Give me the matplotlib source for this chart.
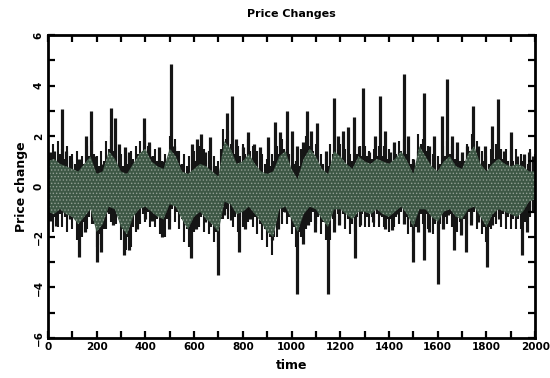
import numpy as np
import matplotlib.pyplot as plt
from matplotlib.ticker import MultipleLocator

# dense core of the series, read every 25 steps (upper / lower limit)
band_t = np.arange(0, 2001, 25)
band_hi = [1.0, 1.1, 0.9, 0.8, 0.7, 0.6, 0.9, 1.2, 0.5, 0.6,
           1.4, 1.1, 0.6, 0.5, 0.9, 1.3, 1.5, 1.0, 0.8, 0.7,
           1.5, 1.2, 0.6, 0.5, 0.7, 0.9, 0.8, 0.6, 0.4, 1.8,
           1.5, 0.9, 1.0, 1.3, 0.9, 0.6, 0.5, 0.6, 1.2, 1.4,
           0.7, 0.3, 1.1, 1.5, 1.2, 0.7, 0.5, 1.4, 1.2, 0.9,
           0.7, 1.2, 1.0, 0.9, 1.1, 1.0, 0.9, 1.1, 1.4, 1.0,
           0.5, 1.6, 1.2, 0.8, 0.6, 1.0, 1.2, 0.8, 0.7, 1.3,
           1.6, 0.9, 0.6, 0.9, 1.1, 0.9, 0.8, 0.9, 0.8, 0.6, 0.6]
band_lo = [-1.0, -1.1, -0.9, -1.1, -1.2, -1.5, -1.2, -0.9, -1.8, -1.5,
           -0.8, -0.9, -1.6, -1.9, -1.2, -0.9, -0.8, -1.0, -1.2, -1.3,
           -0.7, -0.8, -1.3, -1.7, -1.2, -1.0, -1.3, -1.5, -1.8, -0.6,
           -0.7, -1.1, -1.0, -0.8, -1.1, -1.4, -1.8, -2.0, -0.9, -0.8,
           -1.3, -1.8, -1.1, -0.8, -0.9, -1.3, -1.6, -0.9, -0.9, -1.1,
           -1.3, -1.0, -1.0, -1.1, -0.9, -1.1, -1.2, -1.0, -0.8, -1.1,
           -1.6, -0.9, -0.9, -1.2, -1.4, -1.0, -0.9, -1.2, -1.3, -0.9,
           -0.8, -1.2, -1.6, -1.1, -0.9, -1.0, -1.1, -1.2, -1.0, -0.6, -0.5]

# black fringe around the core, read every 10 steps
edge_t = np.arange(0, 2001, 10)
edge_hi = [1.6, 1.2, 1.7, 1.1, 1.8, 1.3, 1.5, 1.1, 1.6, 1.2,
           1.3, 0.9, 1.4, 1.0, 1.2, 0.9, 1.6, 1.2, 1.8, 1.3,
           1.2, 0.8, 1.4, 1.0, 1.8, 1.5, 2.0, 1.4, 1.7, 1.2,
           1.3, 0.8, 1.2, 0.9, 1.4, 1.1, 1.6, 1.3, 1.8, 1.4,
           2.1, 1.6, 1.7, 1.2, 1.5, 1.0, 1.4, 1.0, 1.3, 1.0,
           2.0, 1.6, 1.9, 1.4, 1.4, 0.9, 1.3, 0.8, 1.2, 0.9,
           1.4, 1.0, 1.6, 1.1, 1.5, 1.0, 1.4, 0.9, 1.2, 0.8,
           1.0, 1.5, 2.3, 1.9, 2.2, 1.7, 1.8, 1.3, 1.6, 1.2,
           1.7, 1.3, 1.9, 1.4, 1.6, 1.2, 1.4, 1.0, 1.3, 0.9,
           1.1, 0.8, 1.3, 1.0, 1.6, 1.3, 1.9, 1.5, 1.8, 1.3,
           1.3, 0.9, 1.0, 0.8, 1.5, 1.2, 2.0, 1.6, 1.9, 1.4,
           1.7, 1.2, 1.3, 0.9, 1.1, 0.8, 1.7, 1.3, 2.0, 1.5,
           1.7, 1.3, 1.5, 1.1, 1.3, 1.0, 1.7, 1.3, 1.6, 1.2,
           1.6, 1.2, 1.4, 1.1, 1.5, 1.2, 1.6, 1.2, 1.6, 1.1,
           1.5, 1.1, 1.7, 1.3, 1.8, 1.4, 1.9, 1.3, 1.4, 0.9,
           1.1, 0.8, 2.1, 1.7, 1.9, 1.4, 1.6, 1.1, 1.3, 0.9,
           1.2, 0.9, 1.6, 1.2, 1.8, 1.3, 1.6, 1.1, 1.3, 1.0,
           1.3, 1.0, 1.7, 1.4, 2.1, 1.7, 1.8, 1.3, 1.4, 1.0,
           1.2, 0.9, 1.5, 1.1, 1.7, 1.2, 1.5, 1.1, 1.5, 1.0,
           1.4, 1.0, 1.5, 1.0, 1.3, 1.0, 1.2, 0.9, 1.5, 1.1,
           1.3]
edge_lo = [-1.6, -1.2, -1.8, -1.2, -1.6, -1.1, -1.6, -1.2, -1.8, -1.3,
           -1.7, -1.3, -2.1, -1.6, -2.0, -1.4, -1.7, -1.2, -1.5, -1.5,
           -2.4, -1.9, -2.3, -1.7, -1.7, -1.1, -1.4, -1.0, -1.5, -1.2,
           -2.1, -1.7, -2.5, -2.0, -2.4, -1.6, -1.8, -1.2, -1.5, -1.1,
           -1.4, -1.0, -1.6, -1.2, -1.6, -1.3, -1.9, -1.4, -2.0, -1.3,
           -1.4, -0.9, -1.4, -1.0, -1.7, -1.3, -2.2, -1.7, -2.4, -1.6,
           -1.8, -1.3, -1.6, -1.2, -1.8, -1.4, -1.9, -1.6, -2.2, -1.8,
           -2.4, -1.3, -1.3, -0.9, -1.3, -1.0, -1.6, -1.2, -1.8, -1.2,
           -1.6, -1.1, -1.4, -1.0, -1.6, -1.2, -1.9, -1.5, -2.1, -1.7,
           -2.4, -2.0, -2.7, -2.0, -2.0, -1.2, -1.5, -1.0, -1.5, -1.2,
           -1.9, -1.6, -2.4, -1.8, -2.0, -1.4, -1.7, -1.1, -1.4, -1.0,
           -1.5, -1.2, -1.9, -1.4, -2.1, -1.6, -2.1, -1.3, -1.5, -1.1,
           -1.5, -1.1, -1.7, -1.3, -1.9, -1.5, -1.8, -1.2, -1.6, -1.1,
           -1.6, -1.2, -1.6, -1.2, -1.6, -1.1, -1.6, -1.2, -1.6, -1.3,
           -1.8, -1.3, -1.6, -1.2, -1.5, -1.0, -1.5, -1.2, -1.9, -1.6,
           -2.2, -1.6, -1.6, -1.1, -1.5, -1.1, -1.7, -1.3, -1.9, -1.5,
           -2.1, -1.5, -1.7, -1.2, -1.5, -1.1, -1.6, -1.2, -1.8, -1.4,
           -1.9, -1.3, -1.5, -1.0, -1.4, -1.0, -1.7, -1.3, -1.9, -1.6,
           -2.2, -1.6, -1.7, -1.2, -1.5, -1.1, -1.6, -1.1, -1.7, -1.2,
           -1.7, -1.3, -1.7, -1.3, -1.7, -1.2, -1.4, -0.9, -1.2, -0.8,
           -1.0]

# upward spikes
peak_t = [7, 24, 58, 75, 96, 128, 157, 176, 190, 226, 258, 276, 291, 315,
          334, 364, 396, 416, 427, 456, 473, 505, 518, 542, 590, 614, 629,
          647, 665, 682, 715, 737, 755, 773, 799, 823, 845, 871, 902, 931,
          954, 983, 1003, 1024, 1046, 1065, 1082, 1106, 1140, 1175, 1190,
          1211, 1233, 1255, 1276, 1295, 1319, 1341, 1363, 1384, 1406, 1420,
          1442, 1463, 1478, 1499, 1521, 1542, 1564, 1586, 1619, 1640, 1658,
          1679, 1701, 1722, 1744, 1765, 1794, 1823, 1849, 1873, 1902, 1924,
          1953, 1975, 1990]
peak_v = [1.35, 1.4, 3.07, 1.4, 1.0, 1.1, 2.0, 3.0, 1.2, 0.9, 3.1, 2.7, 1.7,
          1.55, 1.36, 1.1, 2.7, 1.75, 1.2, 1.55, 1.0, 4.85, 1.6, 0.9, 1.7,
          1.9, 2.1, 1.36, 1.95, 0.83, 1.22, 2.9, 3.6, 1.9, 1.55, 2.15, 1.7,
          1.55, 1.95, 2.55, 2.15, 3.0, 2.2, 1.6, 1.75, 3.0, 2.2, 2.5, 1.4,
          3.5, 2.0, 2.2, 2.35, 2.75, 1.6, 3.9, 1.35, 2.0, 3.6, 2.2, 1.35,
          1.75, 1.35, 4.45, 2.0, 1.1, 1.4, 3.7, 1.6, 2.0, 2.8, 4.25, 2.0,
          1.75, 1.36, 1.62, 3.2, 1.62, 1.62, 2.4, 3.45, 1.4, 2.15, 1.22,
          1.3, 1.36, 1.2]

# downward spikes
trough_t = [7, 32, 65, 89, 111, 128, 154, 183, 201, 219, 247, 269, 291, 312,
            334, 367, 399, 427, 449, 470, 499, 528, 557, 586, 607, 643, 672,
            698, 722, 751, 784, 809, 830, 859, 891, 919, 945, 974, 1000, 1024,
            1046, 1068, 1096, 1125, 1150, 1173, 1197, 1219, 1240, 1262, 1283,
            1305, 1334, 1363, 1384, 1413, 1435, 1463, 1499, 1521, 1542, 1564,
            1603, 1622, 1643, 1667, 1694, 1715, 1737, 1765, 1801, 1823, 1852,
            1880, 1909, 1945, 1968, 1990]
trough_v = [-1.35, -1.55, -1.0, -1.28, -1.0, -2.8, -1.8, -0.88, -3.0, -2.6,
            -1.0, -1.54, -0.75, -2.72, -2.5, -1.67, -1.28, -1.35, -1.14, -2.0,
            -1.67, -0.62, -1.0, -2.85, -1.67, -1.41, -1.28, -3.5, -1.14, -1.34,
            -2.6, -1.67, -1.28, -1.01, -1.14, -2.13, -1.67, -1.01, -1.34, -4.25,
            -2.26, -1.54, -1.8, -1.14, -4.25, -1.8, -1.54, -0.88, -1.28, -2.85,
            -1.54, -1.14, -1.41, -1.14, -1.67, -1.74, -1.08, -1.47, -3.0, -1.8,
            -2.9, -1.8, -3.85, -1.67, -1.14, -2.5, -1.93, -2.6, -1.54, -1.41,
            -3.2, -1.54, -1.28, -1.14, -1.14, -2.7, -1.8, -1.01]

plt.rcParams['font.family'] = 'DejaVu Sans'
plt.rcParams['font.weight'] = 'bold'
plt.rcParams['hatch.linewidth'] = 0.6

fig = plt.figure(figsize=(5.5, 3.78), dpi=100)
ax = fig.add_axes([0.087, 0.106, 0.886, 0.801])

ax.vlines(edge_t, edge_lo, edge_hi, color='#151515', lw=1.5, zorder=1)
ax.vlines(peak_t, 0, peak_v, color='#151515', lw=2.3, zorder=1.5)
ax.vlines(trough_t, trough_v, 0, color='#151515', lw=2.3, zorder=1.5)
ax.fill_between(band_t, band_lo, band_hi, facecolor='#3d5745',
                edgecolor='#939f94', hatch='.....', lw=0, zorder=2)

ax.set_xlim(0, 2000)
ax.set_ylim(-6, 6)
ax.xaxis.set_major_locator(MultipleLocator(200))
ax.xaxis.set_minor_locator(MultipleLocator(100))
ax.yaxis.set_major_locator(MultipleLocator(2))
ax.yaxis.set_minor_locator(MultipleLocator(1))
ax.tick_params(which='both', direction='in', top=True, right=True,
               width=1.6, length=5, labelsize=7.5, pad=3)
for lab in ax.get_yticklabels():
    lab.set_rotation(90)
    lab.set_va('center')
for s in ax.spines.values():
    s.set_linewidth(2)
    s.set_zorder(3)

ax.set_title('Price Changes', fontsize=8, fontweight='bold', pad=13)
ax.set_xlabel('time', fontsize=9, fontweight='bold', labelpad=5)
ax.set_ylabel('Price change', fontsize=9, fontweight='bold', labelpad=4)

fig.savefig('out.png', dpi=100)
